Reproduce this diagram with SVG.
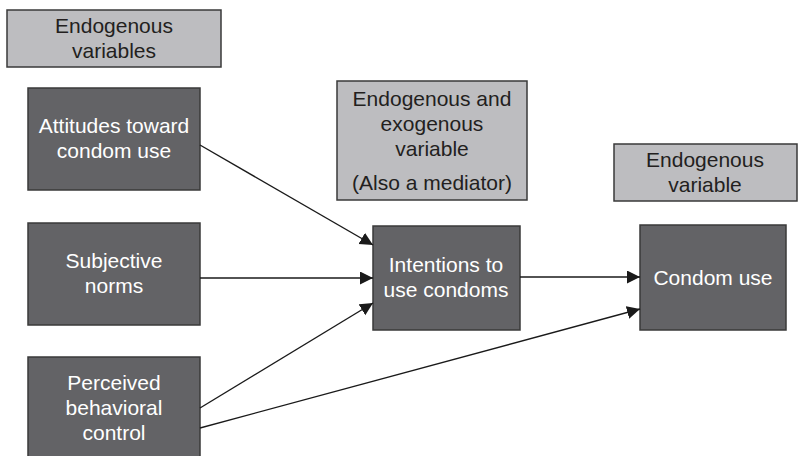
<svg xmlns="http://www.w3.org/2000/svg" width="800" height="456" viewBox="0 0 800 456">
  <defs>
    <style>
      .label { fill: #bdbdc0; stroke: #3a3a3a; stroke-width: 1.5; }
      .var { fill: #636366; stroke: #3a3a3a; stroke-width: 1.5; }
      text { font-family: "Liberation Sans", Arial, sans-serif; font-size: 21px; text-anchor: middle; }
      .dark { fill: #231f20; }
      .light { fill: #ffffff; }
      .edge { stroke: #1a1a1a; stroke-width: 1.4; fill: none; marker-end: url(#arrow); }
    </style>
    <marker id="arrow" markerUnits="userSpaceOnUse" markerWidth="14" markerHeight="14" refX="13" refY="6.5" orient="auto">
      <path d="M0,0 L13,6.5 L0,13 z" fill="#1a1a1a"/>
    </marker>
  </defs>

  <rect width="800" height="456" fill="#ffffff"/>

  <!-- category labels -->
  <g id="label-endogenous-variables">
    <rect class="label" x="7" y="10" width="214" height="57"/>
    <text class="dark" x="114" y="33">Endogenous</text>
    <text class="dark" x="114" y="58">variables</text>
  </g>
  <g id="label-mediator">
    <rect class="label" x="337" y="81" width="190" height="119"/>
    <text class="dark" x="432" y="106">Endogenous and</text>
    <text class="dark" x="432" y="131">exogenous</text>
    <text class="dark" x="432" y="156">variable</text>
    <text class="dark" x="432" y="190">(Also a mediator)</text>
  </g>
  <g id="label-endogenous-variable">
    <rect class="label" x="614" y="144" width="183" height="57"/>
    <text class="dark" x="705" y="167">Endogenous</text>
    <text class="dark" x="705" y="192">variable</text>
  </g>

  <!-- variables -->
  <g id="attitudes">
    <rect class="var" x="28" y="88" width="172" height="102"/>
    <text class="light" x="114" y="133">Attitudes toward</text>
    <text class="light" x="114" y="158">condom use</text>
  </g>
  <g id="subjective-norms">
    <rect class="var" x="28" y="223" width="172" height="102"/>
    <text class="light" x="114" y="268">Subjective</text>
    <text class="light" x="114" y="293">norms</text>
  </g>
  <g id="perceived-control">
    <rect class="var" x="28" y="357" width="172" height="110"/>
    <text class="light" x="114" y="390">Perceived</text>
    <text class="light" x="114" y="415">behavioral</text>
    <text class="light" x="114" y="440">control</text>
  </g>
  <g id="intentions">
    <rect class="var" x="373" y="226" width="147" height="104"/>
    <text class="light" x="446" y="272">Intentions to</text>
    <text class="light" x="446" y="297">use condoms</text>
  </g>
  <g id="condom-use">
    <rect class="var" x="640" y="225" width="146" height="105"/>
    <text class="light" x="713" y="285">Condom use</text>
  </g>

  <!-- paths -->
  <g id="connectors">
    <line class="edge" x1="200" y1="145" x2="373" y2="245"/>
    <line class="edge" x1="200" y1="278" x2="373" y2="278"/>
    <line class="edge" x1="200" y1="408" x2="373" y2="303"/>
    <line class="edge" x1="520" y1="277" x2="640" y2="277"/>
    <line class="edge" x1="200" y1="428" x2="640" y2="309"/>
  </g>
</svg>
